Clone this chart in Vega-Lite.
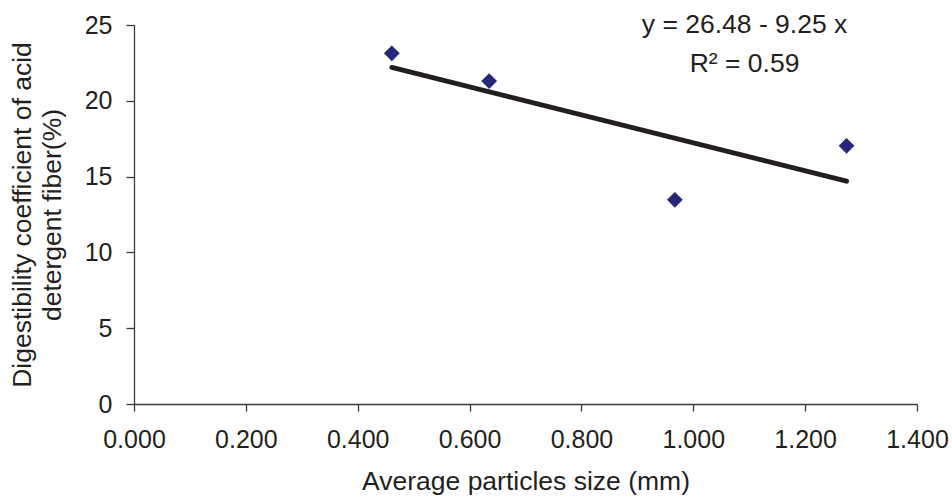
{
  "$schema": "https://vega.github.io/schema/vega-lite/v6.json",
  "width": 783,
  "height": 379,
  "autosize": {"type": "none"},
  "padding": {"left": 134, "top": 25, "right": 35, "bottom": 93},
  "background": "white",
  "config": {
    "view": {"stroke": null},
    "font": "Liberation Sans",
    "axis": {
      "grid": false,
      "domainColor": "#3a3a3a",
      "tickColor": "#3a3a3a",
      "domainWidth": 1.3,
      "tickWidth": 1.3,
      "tickSize": 7,
      "labelFont": "Liberation Sans",
      "labelFontSize": 25,
      "labelColor": "#231f20",
      "labelFlush": false,
      "labelOverlap": false,
      "titleFont": "Liberation Sans",
      "titleFontSize": 26.5,
      "titleFontWeight": "normal",
      "titleColor": "#231f20"
    }
  },
  "datasets": {
    "points": [
      {"size": 0.461, "dc": 23.13},
      {"size": 0.635, "dc": 21.3},
      {"size": 0.967, "dc": 13.47},
      {"size": 1.274, "dc": 17.03}
    ],
    "trend": [
      {"size": 0.461, "dc": 22.2},
      {"size": 1.274, "dc": 14.7}
    ],
    "notes": [
      {"size": 1.0916, "dc": 24.45, "label": "y = 26.48 - 9.25 x"},
      {"size": 1.0916, "dc": 21.92, "label": "R² = 0.59"}
    ]
  },
  "layer": [
    {
      "data": {"name": "trend"},
      "mark": {"type": "line", "color": "#231f20", "strokeWidth": 5, "strokeCap": "round"},
      "encoding": {
        "x": {
          "field": "size", "type": "quantitative",
          "scale": {"domain": [0, 1.4], "nice": false},
          "axis": {"values": [0, 0.2, 0.4, 0.6, 0.8, 1.0, 1.2, 1.4], "format": ".3f", "title": "Average particles size (mm)", "labelPadding": 16, "titlePadding": 16}
        },
        "y": {
          "field": "dc", "type": "quantitative",
          "scale": {"domain": [0, 25], "nice": false},
          "axis": {"values": [0, 5, 10, 15, 20, 25], "title": ["Digestibility coefficient of acid", "detergent fiber(%)"], "titleLineHeight": 30, "tickSize": 8, "labelPadding": 14, "titlePadding": 18}
        }
      }
    },
    {
      "data": {"name": "points"},
      "mark": {"type": "point", "shape": "diamond", "filled": true, "size": 250, "color": "#252876", "opacity": 1},
      "encoding": {
        "x": {"field": "size", "type": "quantitative"},
        "y": {"field": "dc", "type": "quantitative"}
      }
    },
    {
      "data": {"name": "notes"},
      "mark": {"type": "text", "fontSize": 26.5, "color": "#231f20", "align": "center", "baseline": "alphabetic", "font": "Liberation Sans"},
      "encoding": {
        "x": {"field": "size", "type": "quantitative"},
        "y": {"field": "dc", "type": "quantitative"},
        "text": {"field": "label"}
      }
    }
  ]
}
